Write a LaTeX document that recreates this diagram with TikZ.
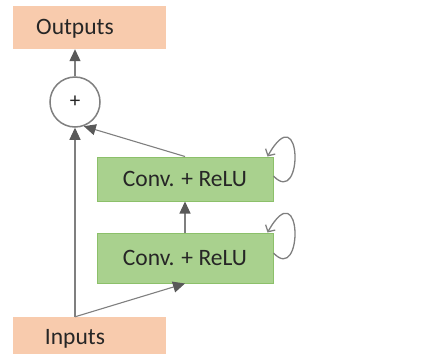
\documentclass[tikz,border=0pt]{standalone}
\usepackage{fontspec}
\setmainfont{Carlito}
\usepackage{tikz}
\usetikzlibrary{arrows.meta}
\definecolor{rnnpeach}{HTML}{F8CBAD}
\definecolor{rnngreen}{HTML}{A9D18E}
\definecolor{rnnedge}{HTML}{8CC06A}
\definecolor{rnnline}{HTML}{7F7F7F}
\definecolor{rnntip}{HTML}{595959}
\definecolor{rnnink}{HTML}{262626}

\begin{document}
\begin{tikzpicture}[x=1pt,y=-1pt,
    font=\fontsize{23.5}{28}\selectfont,text=rnnink,
    iobox/.style={fill=rnnpeach,minimum width=153pt,inner sep=0pt},
    convbox/.style={draw=rnnedge,line width=1pt,fill=rnngreen,minimum width=176pt,inner sep=0pt},
    flow/.style={rnnline,line width=1.1pt,-{Triangle[length=12pt,width=11pt,fill=rnntip,color=rnntip]}},
    recur/.style={rnnline,line width=1.3pt,-{Straight Barb[length=5pt,width=11pt]}}]
    \useasboundingbox (0,0) rectangle (424,354);
    \node[iobox,minimum height=43pt] (out) at (89.5,27.5){};
    \node (outtext) at (75,29){Outputs};
    \node[draw=rnnline,line width=1.5pt,fill=white,circle,minimum size=50pt,inner sep=0pt,
      font=\fontsize{21}{24}\selectfont] (sum) at (75,102){+};
    \node[convbox,minimum height=44pt] (conv2) at (185,179){Conv. + ReLU};
    \node[convbox,minimum height=50pt] (conv1) at (185,258){Conv. + ReLU};
    \node[iobox,minimum height=46pt] (in) at (89.5,340){};
    \node (intext) at (75,339){Inputs};
    % skip path and stacked convolutions
    \draw[flow] (sum.north) -- (sum.north |- out.south);
    \draw[flow] (in.north -| sum.south) -- (sum.south);
    \draw[flow] (in.north -| sum.south) -- (conv1.south);
    \draw[flow] (conv1.north) -- (conv2.south);
    \draw[flow] (conv2.north) -- (sum.-70);
    % recurrent self loops
    \draw[recur] ([yshift=3pt]conv2.east) .. controls +(30,32) and +(35,-62) .. ([xshift=-6pt]conv2.north east);
    \draw[recur] ([yshift=5pt]conv1.east) .. controls +(30,32) and +(35,-62) .. ([xshift=-6pt]conv1.north east);
  \end{tikzpicture}
\end{document}
